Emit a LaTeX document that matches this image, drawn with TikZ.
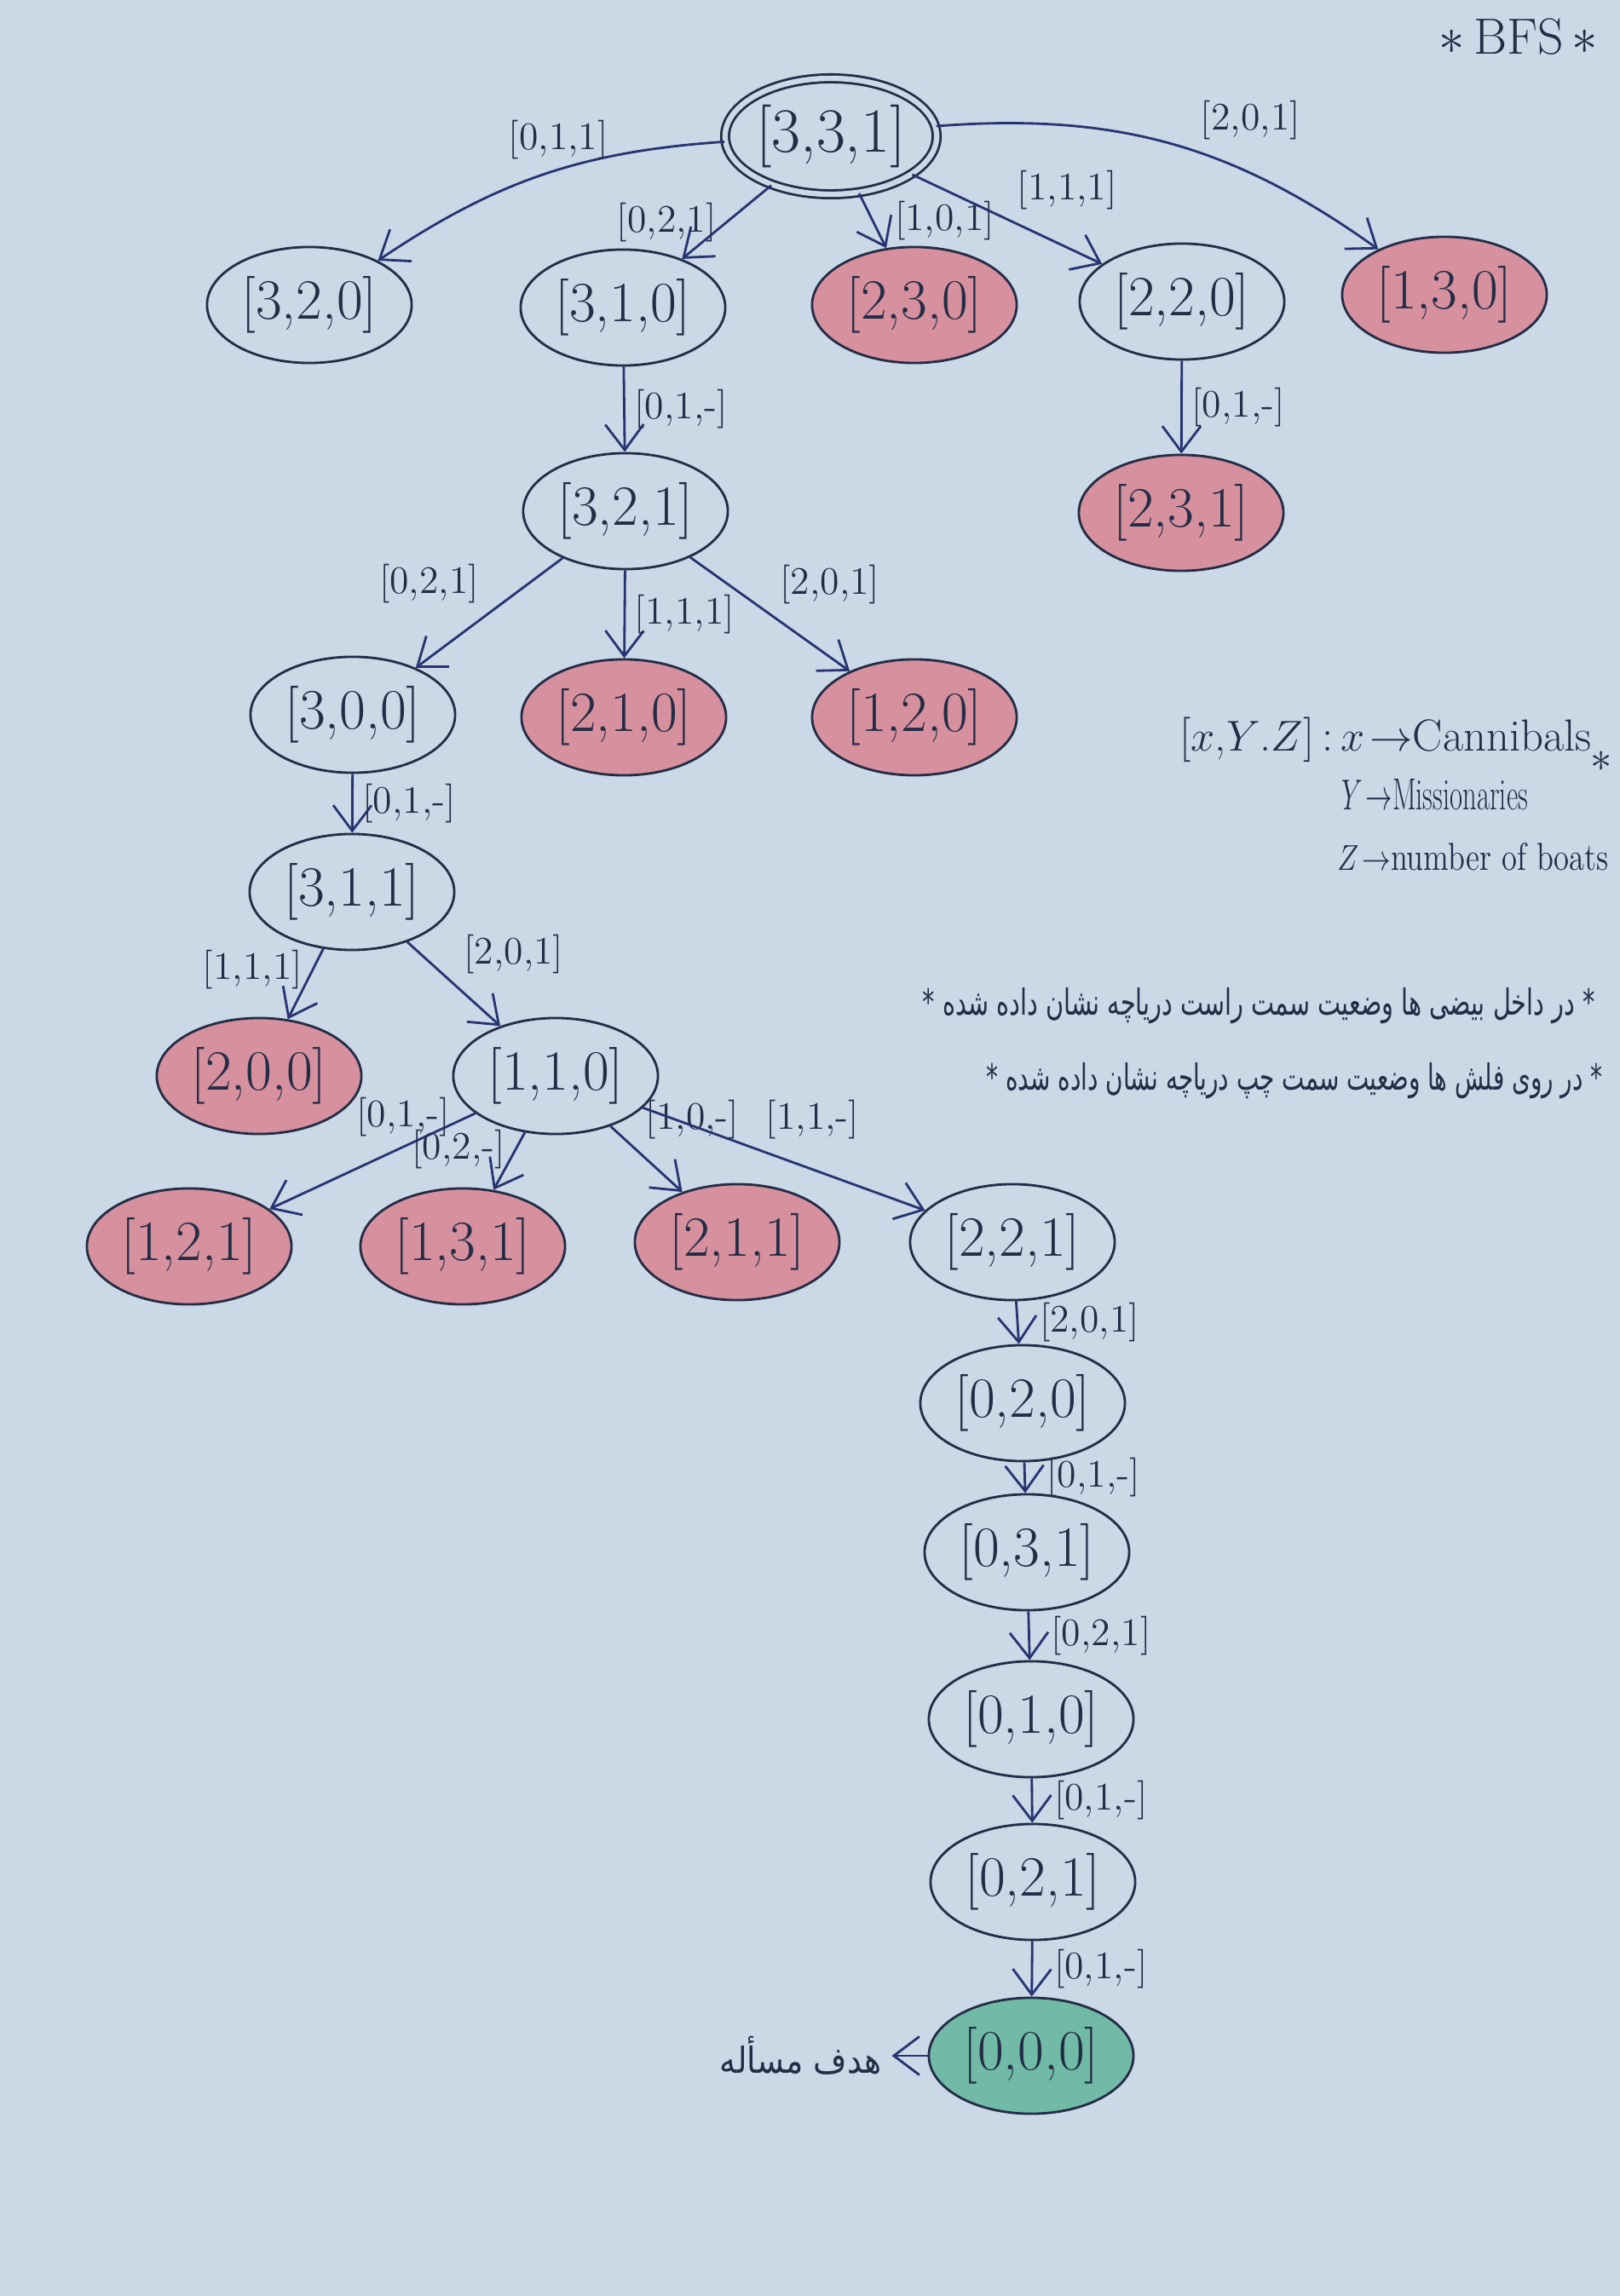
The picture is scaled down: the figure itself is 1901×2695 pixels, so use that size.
\documentclass[tikz,border=0pt]{standalone}
\usepackage{fontspec}
\usetikzlibrary{positioning,shapes.geometric,arrows.meta}
\newfontfamily\farsi[Script=Arabic]{DejaVu Sans}
\TeXXeTstate=1

\definecolor{paper}{RGB}{203,216,230}
\definecolor{ink}{RGB}{35,45,70}
\definecolor{arrowblue}{RGB}{38,52,115}
\definecolor{dead}{RGB}{214,144,158}
\definecolor{goal}{RGB}{112,186,166}

\begin{document}
\begin{tikzpicture}[x=0.01cm, y=-0.01cm,
  c/.style={ellipse, draw=ink, thick, minimum width=2.4cm, minimum height=1.36cm, inner sep=0pt, text=ink, font=\fontsize{19}{22}\selectfont},
  d/.style={fill=dead},
  g/.style={fill=goal},
  ar/.style={->, draw=arrowblue, thick, >={Straight Barb[length=3mm,width=4.5mm]}},
  lab/.style={text=ink, font=\fontsize{13}{15}\selectfont, inner sep=3pt},
  key/.style={anchor=west, text=ink, font=\fontsize{15}{18}\selectfont}]
	\fill[paper] (0,0) rectangle (1901,2695);
	\useasboundingbox (0,0) rectangle (1901,2695);

	\node[text=ink, font=\fontsize{17}{20}\selectfont] (title) at (1782,43) {$\ast$\,BFS\,$\ast$};

	% first level
	\node[c, double=paper, double distance=1.8pt, font=\fontsize{21}{24}\selectfont] (N331) at (975,160) {[3,3,1]};
	\node[c] (N320) at (363,358) {[3,2,0]};
	\node[c] (N310) at (731,361) {[3,1,0]};
	\node[c, d] (N230) at (1073,358) {[2,3,0]};
	\node[c] (N220) at (1387,354) {[2,2,0]};
	\node[c, d] (N130) at (1695,346) {[1,3,0]};

	\node[c] (N321) at (734,600) {[3,2,1]};
	\node[c, d] (N231) at (1386,602) {[2,3,1]};

	\node[c] (N300) at (414,839) {[3,0,0]};
	\node[c, d] (N210) at (732,842) {[2,1,0]};
	\node[c, d] (N120) at (1073,842) {[1,2,0]};

	\node[c] (N311) at (413,1047) {[3,1,1]};
	\node[c, d] (N200) at (304,1263) {[2,0,0]};
	\node[c] (N110) at (652,1263) {[1,1,0]};

	\node[c, d] (N121) at (222,1463) {[1,2,1]};
	\node[c, d] (N131) at (543,1463) {[1,3,1]};
	\node[c, d] (N211) at (865,1458) {[2,1,1]};
	\node[c] (N221) at (1188,1458) {[2,2,1]};

	% path to the goal
	\node[c] (N020) at (1200,1647) {[0,2,0]};
	\node[c] (N031) at (1205,1822) {[0,3,1]};
	\node[c] (N010) at (1210,2018) {[0,1,0]};
	\node[c] (N021) at (1212,2209) {[0,2,1]};
	\node[c, g] (N000) at (1210,2413) {[0,0,0]};
	\node[left=0.42cm of N000, text=ink, font=\farsi\fontsize{12}{15}\selectfont] (goaltxt) {\scalebox{0.9}[1]{\beginR هدف مسأله\endR}};

	\path[ar] (N331) edge[bend right=15] node[lab, pos=0.45, above] {[0,1,1]} (N320);
	\path[ar] (N331) edge node[lab, left] {[0,2,1]} (N310);
	\path[ar] (N331) edge node[lab, right=4pt] {[1,0,1]} (N230);
	\path[ar] (N331) edge node[lab, above right] {[1,1,1]} (N220);
	\path[ar] (N331) edge[bend left=20] node[lab, pos=0.55, above right] {[2,0,1]} (N130);
	\path[ar] (N310) edge node[lab, right] {[0,1,-]} (N321);
	\path[ar] (N220) edge node[lab, right] {[0,1,-]} (N231);
	\path[ar] (N321) edge node[lab, above left] {[0,2,1]} (N300);
	\path[ar] (N321) edge node[lab, right] {[1,1,1]} (N210);
	\path[ar] (N321) edge node[lab, above right] {[2,0,1]} (N120);
	\path[ar] (N300) edge node[lab, right] {[0,1,-]} (N311);
	\path[ar] (N311) edge node[lab, left, pos=0.3] {[1,1,1]} (N200);
	\path[ar] (N311) edge node[lab, above right] {[2,0,1]} (N110);
	\path[ar] (N110) edge node[lab, above, pos=0.35] {[0,1,-]} (N121);
	\path[ar] (N110) edge node[lab, left, pos=0.3] {[0,2,-]} (N131);
	\path[ar] (N110) edge node[lab, above right, pos=0.35] {[1,0,-]} (N211);
	\path[ar] (N110) edge node[lab, above right, pos=0.4] {[1,1,-]} (N221);
	\path[ar] (N221) edge node[lab, right=4pt] {[2,0,1]} (N020);
	\path[ar] (N020) edge node[lab, right=4pt] {[0,1,-]} (N031);
	\path[ar] (N031) edge node[lab, right=4pt] {[0,2,1]} (N010);
	\path[ar] (N010) edge node[lab, right=4pt] {[0,1,-]} (N021);
	\path[ar] (N021) edge node[lab, right=4pt] {[0,1,-]} (N000);
	\path[ar] (N000) edge (goaltxt);

	% legend
	\node[key] (key1) at (1372,868) {[$x$,$Y$.$Z$]\,:\,$x\!\rightarrow$Cannibals};
	\node[text=ink, font=\fontsize{14}{16}\selectfont] (keystar) at (1879,894) {$\ast$};
	\node[key] (key2) at (1562,933) {\scalebox{0.62}[1]{$Y\!\rightarrow$Missionaries}};
	\node[key, font=\fontsize{13}{16}\selectfont] (key3) at (1557,1006) {\scalebox{0.8}[1]{$Z\!\rightarrow$number of boats}};

	\node[anchor=east, text=ink, font=\farsi\fontsize{12}{15}\selectfont] (note1) at (1884,1181) {\scalebox{0.68}[1]{\beginR * در داخل بیضی ها وضعیت سمت راست دریاچه نشان داده شده *\endR}};
	\node[anchor=east, text=ink, font=\farsi\fontsize{12}{15}\selectfont] (note2) at (1893,1269) {\scalebox{0.66}[1]{\beginR * در روی فلش ها وضعیت سمت چپ دریاچه نشان داده شده *\endR}};
\end{tikzpicture}
\end{document}
